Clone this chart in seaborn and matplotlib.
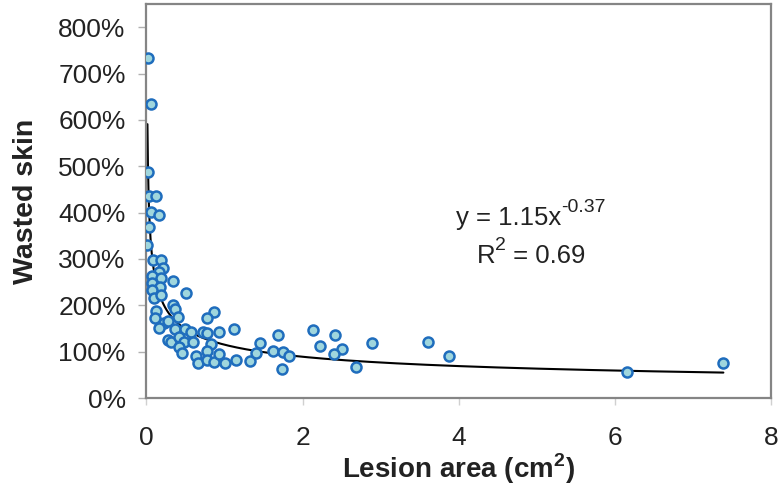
import numpy as np
import matplotlib
matplotlib.use('Agg')
import matplotlib.pyplot as plt
from matplotlib.ticker import PercentFormatter
import seaborn as sns

# lesion area (cm2) and wasted skin (fraction, 1.0 = 100%)
lesion_area = [0.015, 0.06, 0.015, 0.03, 0.12, 0.06, 0.16, 0.036, 0.012, 0.08,
               0.19, 0.21, 0.16, 0.07, 0.19, 0.07, 0.34, 0.17, 0.07, 0.51,
               0.10, 0.19, 0.34, 0.37, 0.12, 0.86, 0.77, 0.40, 0.11, 0.22,
               0.16, 0.28, 0.37, 0.49, 0.57, 0.73, 0.78, 0.93, 1.12, 0.27,
               0.32, 0.42, 0.48, 0.59, 0.42, 0.45, 0.83, 0.77, 0.63, 0.66,
               0.77, 0.87, 0.93, 1.00, 1.15, 1.33, 1.40, 1.46, 1.62, 1.68,
               1.75, 1.83, 1.74, 2.13, 2.22, 2.41, 2.51, 2.40, 2.68, 2.89,
               3.61, 3.88, 6.16, 7.39]
wasted_skin = [7.33, 6.34, 4.87, 4.35, 4.35, 4.01, 3.94, 3.68, 3.30, 2.97,
               2.97, 2.81, 2.72, 2.63, 2.58, 2.48, 2.52, 2.40, 2.33, 2.27,
               2.16, 2.22, 2.00, 1.91, 1.88, 1.85, 1.73, 1.75, 1.73, 1.61,
               1.50, 1.67, 1.48, 1.48, 1.43, 1.43, 1.40, 1.43, 1.48, 1.25,
               1.20, 1.31, 1.21, 1.20, 1.09, 0.98, 1.17, 1.02, 0.91, 0.76,
               0.82, 0.78, 0.95, 0.76, 0.83, 0.80, 0.98, 1.18, 1.02, 1.36,
               1.00, 0.91, 0.62, 1.47, 1.13, 1.36, 1.06, 0.95, 0.67, 1.18,
               1.21, 0.91, 0.57, 0.76]

# power trendline shown on the chart: y = 1.15 x^-0.37
fit_a = 1.15
fit_b = -0.37

x_ticks = [0, 2, 4, 6, 8]
y_ticks = [0, 1, 2, 3, 4, 5, 6, 7, 8]

sns.set_style('white')
plt.rcParams['font.family'] = ['Liberation Sans', 'DejaVu Sans']
plt.rcParams['mathtext.fontset'] = 'custom'
plt.rcParams['mathtext.rm'] = 'Liberation Sans'
plt.rcParams['mathtext.bf'] = 'Liberation Sans:bold'

fig = plt.figure(figsize=(7.78, 4.88), dpi=100)
ax = fig.add_axes([0.1883, 0.1844, 0.8027, 0.8074])

x_fit = np.geomspace(min(lesion_area), max(lesion_area), 400)
y_fit = fit_a * x_fit ** fit_b
sns.lineplot(x=x_fit, y=y_fit, ax=ax, color='black', linewidth=1.5, zorder=2)

sns.scatterplot(x=lesion_area, y=wasted_skin, ax=ax, s=52,
                color='#9fd6dd', edgecolor='#1f6dbd', linewidth=1.8, zorder=3)

ax.set_xlim(0, 8)
ax.set_ylim(0, 8.5)
ax.set_xticks(x_ticks)
ax.set_yticks(y_ticks)
ax.yaxis.set_major_formatter(PercentFormatter(xmax=1, decimals=0))

for side in ['left', 'right', 'top', 'bottom']:
    ax.spines[side].set_visible(True)
    ax.spines[side].set_color('#858585')
    ax.spines[side].set_linewidth(1.6)

ax.tick_params(axis='y', which='major', direction='out', length=6, width=1,
               color='#b0b0b0', pad=9, labelsize=19, labelcolor='#222222', left=True)
ax.tick_params(axis='x', which='major', direction='out', length=5, width=1,
               color='#d0d0d0', pad=15, labelsize=19, labelcolor='#222222', bottom=True)

ax.set_xlabel(r'Lesion area (cm$^{\mathbf{2}}$)', fontsize=20, fontweight='bold',
              color='#222222', labelpad=1)
ax.set_ylabel('Wasted skin', fontsize=20.5, fontweight='bold', color='#222222', labelpad=14)

eq = ax.text(4.64, 3.73, 'y = 1.15x', ha='center', va='baseline',
             fontsize=18.5, color='#222222')
ax.annotate('-0.37', xy=(1.0, 0.6), xycoords=eq, ha='left', va='bottom',
            fontsize=14, color='#222222')
r2 = ax.text(4.35, 2.91, 'R', ha='center', va='baseline', fontsize=18.5, color='#222222')
r2b = ax.annotate('2', xy=(1.0, 0.6), xycoords=r2, ha='left', va='bottom',
                  fontsize=14, color='#222222')
ax.annotate(' = 0.69', xy=(1.0, 0.0), xycoords=(r2b, r2), ha='left', va='bottom',
            fontsize=18.5, color='#222222')

plt.savefig('out.png', dpi=100)
